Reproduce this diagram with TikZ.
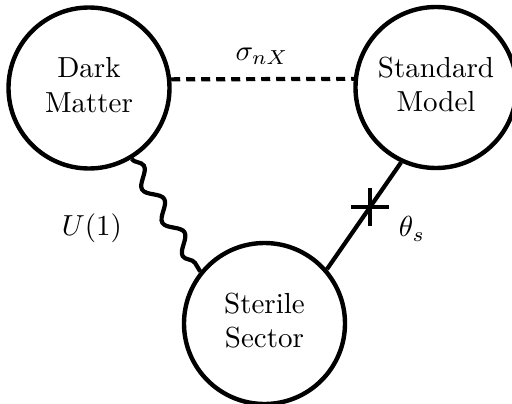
\documentclass[tikz,border=0pt]{standalone}
\usetikzlibrary{decorations.pathmorphing}
\newcommand{\lbl}[1]{\scalebox{2.9}{#1}}
\newcommand{\twolines}[2]{\lbl{\begin{tabular}{@{}c@{}}#1\\#2\end{tabular}}}
\begin{document}
\begin{tikzpicture}[x=1pt,y=-1pt,
  sector/.style={circle, draw, line width=4.4pt, minimum size=161pt, inner sep=0pt},
  link/.style={line width=4.2pt},
  wavy/.style={link, decorate, decoration={snake, segment length=39pt, amplitude=7pt}},
  tag/.style={inner sep=0pt}]
\useasboundingbox (0,0) rectangle (512,404);
\node[sector] (dm) at (89,88) {\twolines{Dark}{Matter}};
\node[sector] (sm) at (436,87.5) {\twolines{Standard}{Model}};
\node[sector] (ss) at (264.5,323.5) {\twolines{Sterile}{Sector}};
\draw[link, dash pattern=on 9pt off 6pt] (dm.6.5) -- (sm.174);
\node[tag] (sig) at (262,56) {\lbl{$\sigma_{nX}$}};
\draw[wavy] (dm.-59) -- (ss.141);
\node[tag] (u1) at (92,228) {\lbl{$U(1)$}};
\draw[link] (sm.-115) -- (ss.41.5) coordinate[pos=0.42] (mx);
\draw[link] ([xshift=-19pt]mx) -- ([xshift=19pt]mx);
\draw[link] ([yshift=-19pt]mx) -- ([yshift=19pt]mx);
\node[tag] (th) at (412,229) {\lbl{$\theta_s$}};
\end{tikzpicture}
\end{document}
